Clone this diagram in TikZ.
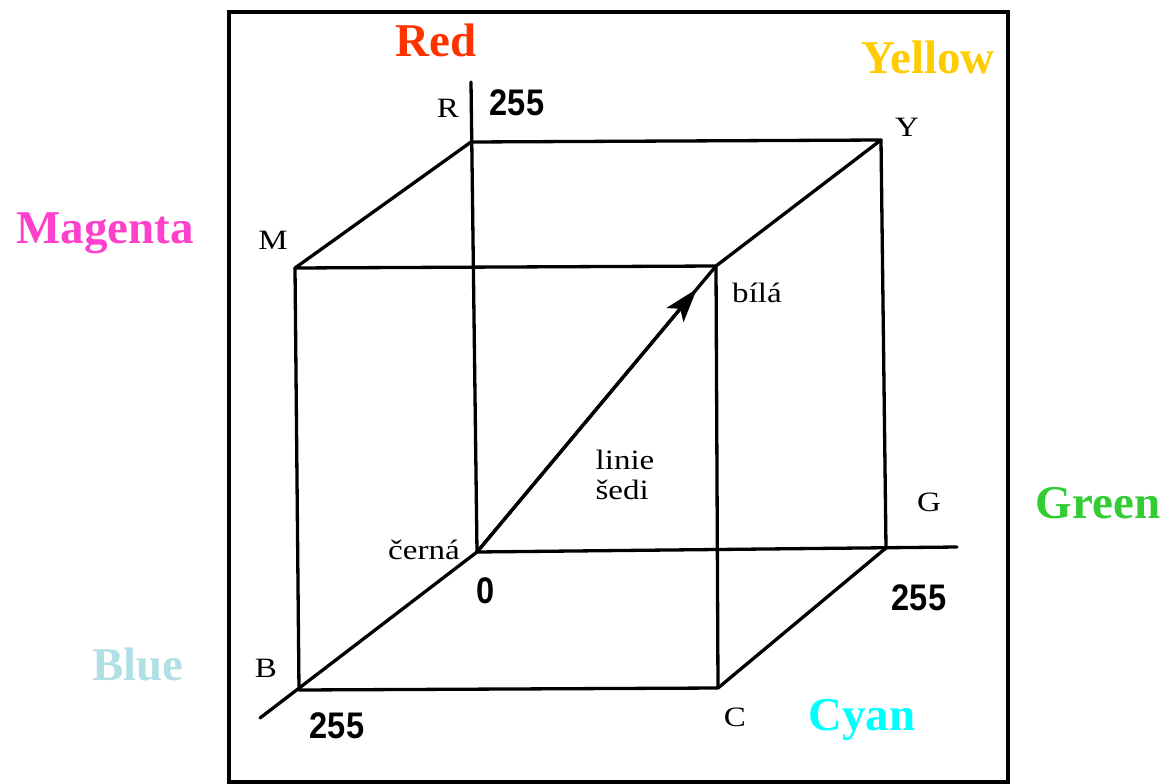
\documentclass[tikz,border=0pt]{standalone}
\usepackage{fontspec}
\setmainfont{Liberation Serif}
\newfontfamily\numfont{Liberation Sans}
\usetikzlibrary{arrows.meta}
\definecolor{cRed}{HTML}{FF3300}
\definecolor{cYellow}{HTML}{FFCC00}
\definecolor{cMagenta}{HTML}{FF40CC}
\definecolor{cGreen}{HTML}{33CC33}
\definecolor{cBlue}{HTML}{B0E0E6}
\definecolor{cCyan}{HTML}{00FFFF}
\tikzset{
  edge/.style={line width=3.3pt, line cap=round, line join=round},
  big/.style={font=\fontsize{47}{47}\selectfont\bfseries, inner sep=0pt},
  vlab/.style={font=\fontsize{28}{28}\selectfont, inner sep=0pt, xscale=1.18},
  num/.style={font=\fontsize{37}{37}\selectfont\numfont\bfseries, inner sep=0pt, xscale=0.88},
}
\begin{document}
\begin{tikzpicture}[x=1pt,y=-1pt]
\useasboundingbox (0,0) rectangle (1165,784);
% frame
\draw[line width=3.2pt] (229,12) rectangle (1008,782);
% vertices
\coordinate (O) at (477,552);
\coordinate (R) at (471,142);
\coordinate (Y) at (881,140);
\coordinate (G) at (886,548);
\coordinate (M) at (295,268);
\coordinate (W) at (716,266);
\coordinate (B) at (299,690);
\coordinate (C) at (718,688);
\coordinate (Rtop) at (471,82);
\coordinate (Gend) at (957,547);
\coordinate (Bend) at (260,718);
% axes
\draw[edge] (O) -- (Rtop);
\draw[edge] (O) -- (Gend);
\draw[edge] (O) -- (Bend);
% cube edges
\draw[edge] (R) -- (Y) -- (W) -- (M) -- cycle;
\draw[edge] (M) -- (B) -- (C) -- (W);
\draw[edge] (Y) -- (G) -- (C);
% grey line with arrowhead slightly before the white corner
\path (O) -- (W) coordinate[pos=0.92] (Ah);
\draw[edge] (O) -- (W);
\draw[edge, -{Stealth[length=34pt,width=22pt,inset=8pt]}] (O) -- (Ah);
% coloured labels
\node[big, text=cRed] (lred) at (436,40) {Red};
\node[big, text=cYellow] (lyellow) at (928,57) {Yellow};
\node[big, text=cMagenta] (lmagenta) at (105,233) {Magenta};
\node[big, text=cGreen] (lgreen) at (1098,503) {Green};
\node[big, text=cBlue] (lblue) at (138,664) {Blue};
\node[big, text=cCyan] (lcyan) at (862,720) {Cyan};
% vertex labels
\node[vlab] (tR) at (448,108) {R};
\node[vlab] (tY) at (907,127) {Y};
\node[vlab] (tM) at (273,240) {M};
\node[vlab] (tG) at (929,502) {G};
\node[vlab] (tB) at (266,668) {B};
\node[vlab] (tC) at (735,717) {C};
\node[vlab] (tW) at (757,293) {bílá};
\node[vlab] (tK) at (424,550) {černá};
\node[vlab, align=left] (tL) at (625,475) {linie\\[2pt]šedi};
% numbers
\node[num] (n0) at (486,591) {0};
\node[num] (nR) at (517,103) {255};
\node[num] (nG) at (919,598) {255};
\node[num] (nB) at (337,726) {255};
\end{tikzpicture}
\end{document}
